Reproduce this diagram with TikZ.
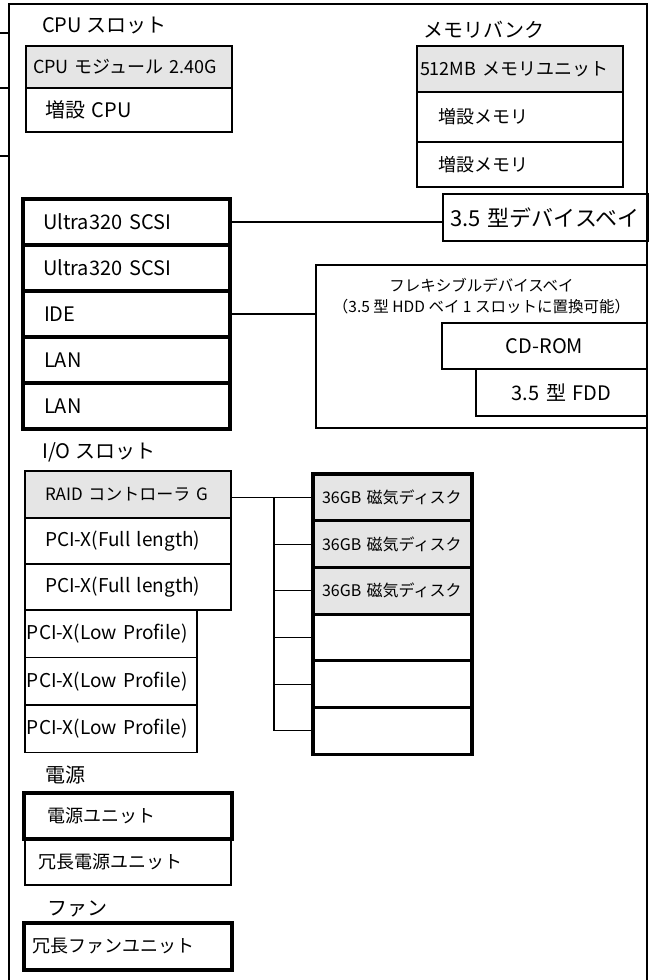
\documentclass[tikz,border=0pt]{standalone}
\usepackage{fontspec}
\setmainfont{Noto Sans CJK JP}
\usetikzlibrary{positioning}

\begin{document}
\begin{tikzpicture}[
    x=1pt, y=-1pt,
    node distance=0pt,
    slot/.style={draw, line width=1.1pt, inner ysep=0pt, outer sep=0pt, align=left, anchor=north west},
    heavy/.style={line width=3.2pt},
    shaded/.style={fill=black!10},
    fs/.style={font=\fontsize{#1}{#1}\selectfont},
    sect/.style={anchor=west, inner sep=0pt, fs=20},
    wire/.style={line width=1.1pt}
  ]

  \useasboundingbox (0,0) rectangle (653,980);

  % chassis frame
  \draw[line width=2pt] (9,980) -- (9,4) -- (647,4) -- (647,980);
  \foreach \y in {33,88,156}
    \draw[wire] (0,\y) -- (9,\y);

  % CPU and memory
  \node[sect] (cpulbl) at (42,26) {CPU~スロット};
  \node[slot, shaded, fs=18, minimum height=42pt, text width=192pt, inner xsep=7pt] (cpu1) at (26,46) {CPU~モジュール~2.40G};
  \node[slot, fs=20, minimum height=44pt, text width=168pt, inner xsep=19pt, below=of cpu1] (cpu2) {増設~CPU};

  \node[sect] (memlbl) at (423,30) {メモリバンク};
  \node[slot, shaded, fs=18, minimum height=46pt, text width=200pt, inner xsep=3pt] (mem1) at (417,46) {512MB~メモリユニット};
  \node[slot, fs=18, minimum height=50pt, text width=164pt, inner xsep=21pt, below=of mem1] (mem2) {増設メモリ};
  \node[slot, fs=18, minimum height=45pt, text width=164pt, inner xsep=21pt, below=of mem2] (mem3) {増設メモリ};

  % onboard interfaces
  \node[slot, fs=22, minimum height=47pt, text width=191pt, inner xsep=7pt] (bay) at (443,194) {3.5~型デバイスベイ};

  \node[slot, heavy, fs=20, minimum height=46pt, text width=167pt, inner xsep=20pt] (scsi1) at (23,199) {Ultra320~SCSI};
  \node[slot, heavy, fs=20, minimum height=46pt, text width=167pt, inner xsep=20pt, below=of scsi1] (scsi2) {Ultra320~SCSI};
  \node[slot, heavy, fs=20, minimum height=46pt, text width=165pt, inner xsep=21pt, below=of scsi2] (ide) {IDE};
  \node[slot, heavy, fs=20, minimum height=46pt, text width=165pt, inner xsep=21pt, below=of ide] (lan1) {LAN};
  \node[slot, heavy, fs=20, minimum height=46pt, text width=165pt, inner xsep=21pt, below=of lan1] (lan2) {LAN};

  \node[slot, minimum width=331pt, minimum height=163pt, inner sep=0pt] (flex) at (316,265) {};
  \node[font=\fontsize{15.5}{21}\selectfont, align=center, anchor=north, inner sep=0pt] (flextitle) at ([yshift=-13pt]flex.north)
    {フレキシブルデバイスベイ\\（3.5~型~HDD~ベイ~1~スロットに置換可能）};
  \node[slot, fs=20, minimum height=46pt, text width=201pt, inner xsep=2pt, align=center] (cdrom) at (442,323) {CD-ROM};
  \node[slot, fs=20, minimum height=47pt, text width=167pt, inner xsep=2pt, align=center, anchor=north east] (fdd) at (cdrom.south east) {3.5~型~FDD};

  \draw[wire] (scsi1.east) -- (scsi1.east -| bay.west);
  \draw[wire] (ide.east) -- (ide.east -| flex.west);

  % I/O slots and disks
  \node[sect] (iolbl) at (42,452) {I/O~スロット};
  \node[slot, shaded, fs=17, minimum height=47pt, text width=166pt, inner xsep=20pt] (raid) at (25,471) {RAID~コントローラ~G};
  \node[slot, fs=19, minimum height=46pt, text width=166pt, inner xsep=20pt, below=of raid] (pcif1) {PCI-X(Full~length)};
  \node[slot, fs=19, minimum height=46pt, text width=166pt, inner xsep=20pt, below=of pcif1] (pcif2) {PCI-X(Full~length)};
  \node[slot, fs=19, minimum height=47.5pt, text width=168pt, inner xsep=2pt] (pcil1) at (pcif2.south west) {PCI-X(Low~Profile)};
  \node[slot, fs=19, minimum height=47.5pt, text width=168pt, inner xsep=2pt, below=of pcil1] (pcil2) {PCI-X(Low~Profile)};
  \node[slot, fs=19, minimum height=47.5pt, text width=168pt, inner xsep=2pt, below=of pcil2] (pcil3) {PCI-X(Low~Profile)};

  \node[slot, heavy, shaded, fs=16, minimum height=46.7pt, text width=141pt, inner xsep=9pt] (disk1) at (313,474) {36GB~磁気ディスク};
  \node[slot, heavy, shaded, fs=16, minimum height=46.7pt, text width=141pt, inner xsep=9pt, below=of disk1] (disk2) {36GB~磁気ディスク};
  \node[slot, heavy, shaded, fs=16, minimum height=46.7pt, text width=141pt, inner xsep=9pt, below=of disk2] (disk3) {36GB~磁気ディスク};
  \node[slot, heavy, minimum height=46.7pt, text width=141pt, inner xsep=9pt, below=of disk3] (disk4) {};
  \node[slot, heavy, minimum height=46.7pt, text width=141pt, inner xsep=9pt, below=of disk4] (disk5) {};
  \node[slot, heavy, minimum height=46.7pt, text width=141pt, inner xsep=9pt, below=of disk5] (disk6) {};

  \coordinate (bus) at (274,0);
  \draw[wire] (raid.east |- disk1.west) -- (disk1.west);
  \draw[wire] (bus |- disk1.west) -- (bus |- disk6.west);
  \foreach \k in {2,...,6}
    \draw[wire] (bus |- disk\k.west) -- (disk\k.west);

  % power and fan
  \node[sect] (pwrlbl) at (45,775) {電源};
  \node[slot, heavy, fs=18, minimum height=46pt, text width=162pt, inner xsep=23pt] (psu1) at (24,793) {電源ユニット};
  \node[slot, fs=18, minimum height=46pt, text width=180pt, inner xsep=13pt, below=of psu1] (psu2) {冗長電源ユニット};

  \node[sect] (fanlbl) at (47,909) {ファン};
  \node[slot, heavy, fs=18, minimum height=47pt, text width=192pt, inner xsep=8pt] (fan) at (24,923) {冗長ファンユニット};

\end{tikzpicture}
\end{document}
